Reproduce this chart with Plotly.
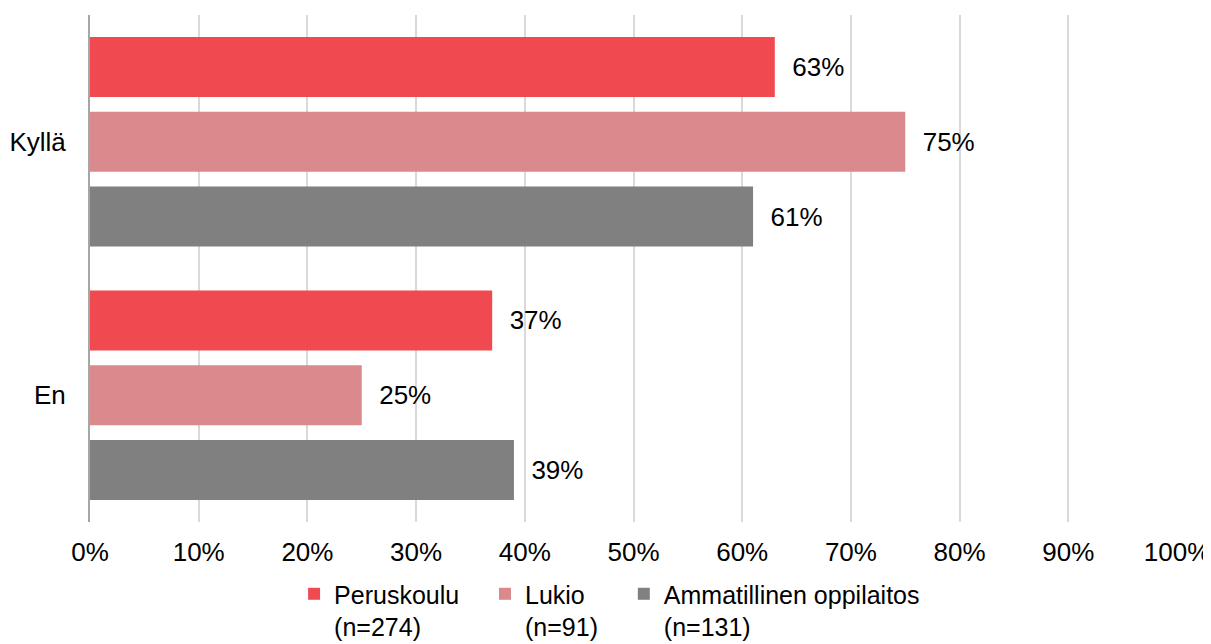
import plotly.graph_objects as go

categories = ["Kyllä", "En"]
series_names = ["Peruskoulu\u00a0\u00a0\u00a0<br>(n=274)", "Lukio<br>(n=91)\u00a0\u00a0\u00a0",
                "Ammatillinen oppilaitos<br>(n=131)"]
peruskoulu = [63, 37]
lukio = [75, 25]
ammatillinen = [61, 39]
colors = ["#F04A50", "#DA898C", "#808080"]
x_ticks = list(range(0, 101, 10))
x_ticklabels = [f"{t}%" for t in x_ticks]

fig = go.Figure()
for name, vals, col in zip(series_names, [peruskoulu, lukio, ammatillinen], colors):
    fig.add_trace(go.Bar(
        y=categories, x=vals, name=name, orientation="h",
        marker=dict(color=col, line=dict(width=0)),
        text=[f"\u00a0\u00a0{v}%" for v in vals], textposition="outside",
        textfont=dict(size=26, color="#000000"), cliponaxis=False,
    ))

# page body has an 8px margin at left/top
fig.update_layout(
    width=1203, height=636,
    barmode="group", bargap=0.115, bargroupgap=0.2,
    plot_bgcolor="white", paper_bgcolor="white",
    font=dict(family="Liberation Sans, Arial, sans-serif", size=26, color="#000000"),
    margin=dict(l=82, r=34, t=7, b=122, autoexpand=False),
    xaxis=dict(range=[0, 100], tickvals=x_ticks, ticktext=x_ticklabels,
               showgrid=True, gridcolor="#D9D9D9", gridwidth=1.5,
               zeroline=False, ticks="", ticklen=0, ticklabelstandoff=12,
               automargin=False, ticklabeloverflow="allow"),
    yaxis=dict(autorange="reversed", showline=True, linecolor="#A6A6A6", linewidth=2,
               ticks="", ticklabelstandoff=17, showgrid=False, automargin=False,
               ticklabeloverflow="allow"),
    legend=dict(orientation="h", x=0.478, xanchor="center", y=-0.0967, yanchor="top",
                font=dict(size=25), itemwidth=30, traceorder="normal",
                valign="top", tracegroupgap=0),
    showlegend=True,
)
fig.write_html("out.html")
